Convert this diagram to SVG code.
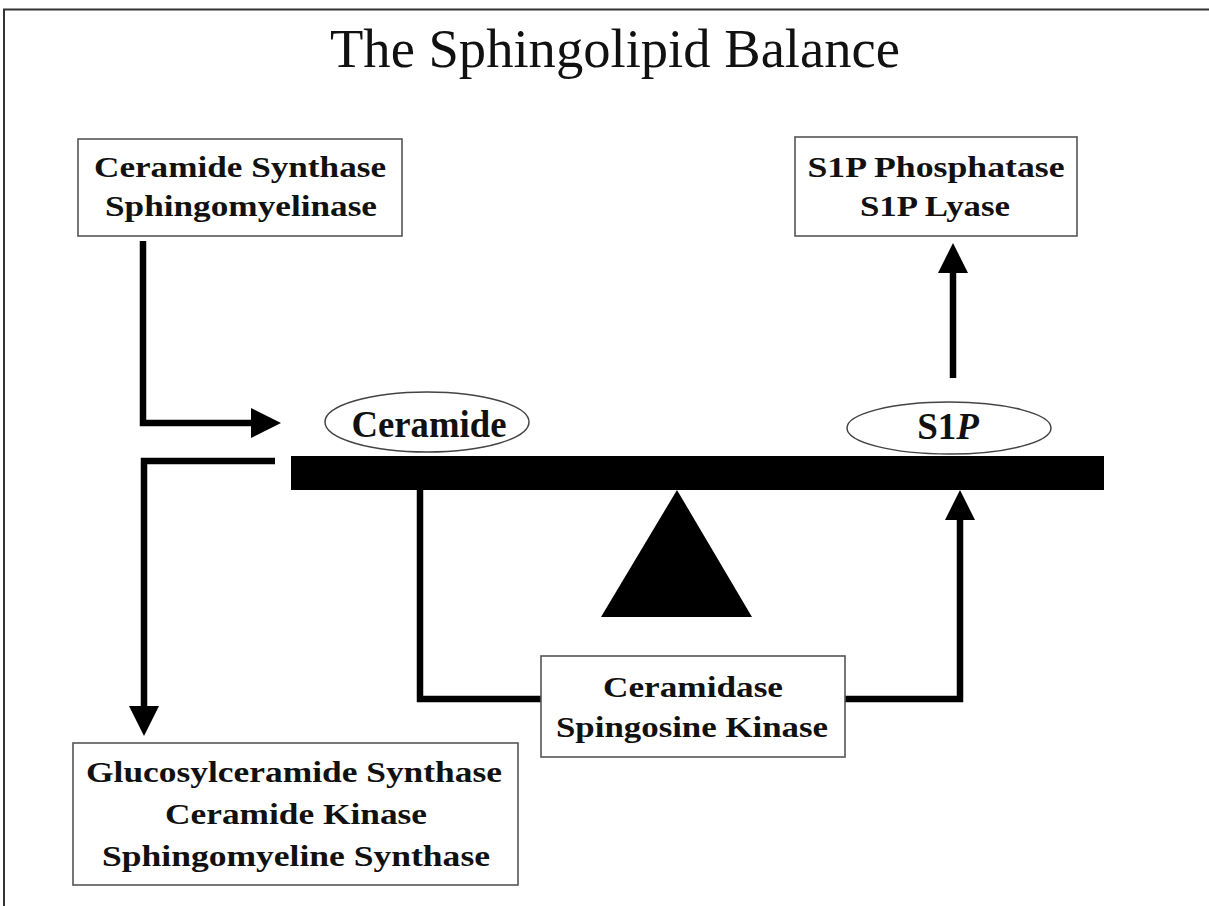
<svg xmlns="http://www.w3.org/2000/svg" width="1209" height="906" viewBox="0 0 1209 906">
<style>
.box{fill:#fff;stroke:#555;stroke-width:1.6}
.ell{fill:#fff;stroke:#444;stroke-width:1.5}
.t{font-family:"Liberation Serif","Times New Roman",serif;font-weight:bold;font-size:30px;fill:#111;text-anchor:middle}
.big{font-size:37px}
.c{fill:none;stroke:#000;stroke-width:6.5}
</style>
<defs>
<marker id="ah" markerUnits="userSpaceOnUse" markerWidth="30" markerHeight="30" viewBox="0 0 28 28" refX="0" refY="14" orient="auto">
<path d="M0,0 L28,14 L0,28 z" fill="#000"/>
</marker>
</defs>
<rect width="1209" height="906" fill="#fff"/>
<path d="M4,906 V9.5 H1209" fill="none" stroke="#333" stroke-width="2"/>
<text x="615" y="67" font-family="Liberation Serif, Times New Roman, serif" font-size="54" text-anchor="middle" textLength="570" lengthAdjust="spacingAndGlyphs" fill="#111">The Sphingolipid Balance</text>

<g id="balance">
<rect x="291" y="456" width="813" height="34" fill="#000"/>
<polygon points="677,490 752,617 601,617" fill="#000"/>
</g>

<g id="connectors">
<path class="c" d="M143,241 V423 H251" marker-end="url(#ah)"/>
<path class="c" d="M275,461 H144 V706" marker-end="url(#ah)"/>
<path class="c" d="M420,490 V699 H541"/>
<path class="c" d="M845,699 H960 V520" marker-end="url(#ah)"/>
<path class="c" d="M953,378 V273" marker-end="url(#ah)"/>
</g>

<g id="ceramide-synthase">
<rect class="box" x="78" y="139" width="324" height="97"/>
<text class="t" x="240" y="177" textLength="292" lengthAdjust="spacingAndGlyphs">Ceramide Synthase</text>
<text class="t" x="241" y="216" textLength="272" lengthAdjust="spacingAndGlyphs">Sphingomyelinase</text>
</g>

<g id="s1p-phosphatase">
<rect class="box" x="795" y="137" width="282" height="99"/>
<text class="t" x="936" y="177" textLength="257" lengthAdjust="spacingAndGlyphs">S1P Phosphatase</text>
<text class="t" x="935" y="216" textLength="150" lengthAdjust="spacingAndGlyphs">S1P Lyase</text>
</g>

<g id="ceramide">
<ellipse class="ell" cx="427" cy="422" rx="102" ry="30"/>
<text class="t big" x="429" y="437" textLength="155" lengthAdjust="spacingAndGlyphs">Ceramide</text>
</g>

<g id="s1p">
<ellipse class="ell" cx="949" cy="428" rx="102" ry="26"/>
<text class="t big" x="948" y="439">S1<tspan font-style="italic">P</tspan></text>
</g>

<g id="ceramidase">
<rect class="box" x="541" y="656" width="304" height="101"/>
<text class="t" x="693" y="697" textLength="180" lengthAdjust="spacingAndGlyphs">Ceramidase</text>
<text class="t" x="692" y="737" textLength="272" lengthAdjust="spacingAndGlyphs">Spingosine Kinase</text>
</g>

<g id="glucosylceramide">
<rect class="box" x="73" y="743" width="445" height="142"/>
<text class="t" x="294" y="782" textLength="416" lengthAdjust="spacingAndGlyphs">Glucosylceramide Synthase</text>
<text class="t" x="296" y="824" textLength="262" lengthAdjust="spacingAndGlyphs">Ceramide Kinase</text>
<text class="t" x="296" y="866" textLength="388" lengthAdjust="spacingAndGlyphs">Sphingomyeline Synthase</text>
</g>
</svg>
